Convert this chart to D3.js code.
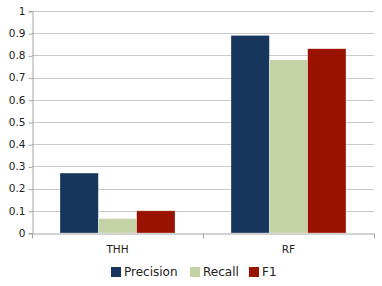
<!DOCTYPE html>
<html>
<head>
<meta charset="utf-8">
<script src="https://cdn.jsdelivr.net/npm/d3@7/dist/d3.min.js"></script>
<style>
  body { margin: 0; background: #fff; }
  svg { display: block; font-family: 'DejaVu Sans', Verdana, sans-serif; }
</style>
</head>
<body>
<div id="chart"></div>
<script>
// Chart data
const categories = ['THH', 'RF'];
const seriesNames = ['Precision', 'Recall', 'F1'];
const precision = [0.27, 0.89];
const recall = [0.065, 0.78];
const f1 = [0.10, 0.83];
const yTicks = [0, 0.1, 0.2, 0.3, 0.4, 0.5, 0.6, 0.7, 0.8, 0.9, 1];
const colors = ['#17365d', '#c3d3a6', '#991300'];

const width = 382, height = 286;
const margin = { top: 11, right: 8, bottom: 53, left: 32 };

const svg = d3.select('#chart').append('svg')
  .attr('width', width)
  .attr('height', height);

const x = d3.scaleBand()
  .domain(categories)
  .range([margin.left, width - margin.right])
  .paddingInner(0)
  .paddingOuter(0);

const x1 = d3.scaleBand()
  .domain(seriesNames)
  .range([0, x.bandwidth()])
  .paddingInner(0)
  .paddingOuter(0.73);

const y = d3.scaleLinear()
  .domain([0, 1])
  .range([height - margin.bottom, margin.top]);

// gridlines
svg.append('g')
  .selectAll('line')
  .data(yTicks.slice(1))
  .enter()
  .append('line')
  .attr('x1', margin.left)
  .attr('x2', width - margin.right)
  .attr('y1', d => Math.round(y(d)) + 0.5)
  .attr('y2', d => Math.round(y(d)) + 0.5)
  .attr('stroke', '#c9c9c9');

// y axis
const yAxis = d3.axisLeft(y)
  .tickValues(yTicks)
  .tickFormat(d => d3.format('~g')(d))
  .tickSize(4)
  .tickPadding(3);
const gy = svg.append('g')
  .attr('transform', `translate(${margin.left + 0.5}, 0)`)
  .call(yAxis);
gy.selectAll('.tick line').attr('stroke', '#a6a6a6')
  .attr('transform', 'translate(0,0.5)');
gy.select('.domain').attr('stroke', '#a6a6a6');
gy.selectAll('text').attr('font-size', '10.5px').attr('fill', '#222')
  .attr('font-family', "'DejaVu Sans', Verdana, sans-serif");

// bars
const data = categories.map((c, i) => ({
  cat: c,
  values: [precision[i], recall[i], f1[i]]
}));

const groups = svg.append('g')
  .selectAll('g')
  .data(data)
  .enter()
  .append('g')
  .attr('transform', d => `translate(${x(d.cat)}, 0)`);

groups.selectAll('rect')
  .data(d => d.values.map((v, j) => ({ name: seriesNames[j], v: v, j: j })))
  .enter()
  .append('rect')
  .attr('x', d => x1(d.name))
  .attr('width', x1.bandwidth())
  .attr('y', d => y(d.v))
  .attr('height', d => y(0) - y(d.v))
  .attr('fill', d => colors[d.j])
  .attr('stroke', 'rgba(255,255,255,0.5)')
  .attr('stroke-width', 0.6);

// x axis
const xAxis = d3.axisBottom(x).tickSize(0).tickPadding(12);
const gx = svg.append('g')
  .attr('transform', `translate(0, ${Math.round(y(0)) + 0.5})`)
  .call(xAxis);
gx.select('.domain').attr('stroke', '#a6a6a6');
gx.selectAll('text').attr('font-size', '10.5px').attr('fill', '#222')
  .attr('font-family', "'DejaVu Sans', Verdana, sans-serif");
// category separators
gx.append('g')
  .selectAll('line')
  .data(categories.map(c => x(c)).concat([x.range()[1]]))
  .enter()
  .append('line')
  .attr('x1', d => Math.round(d) + 0.5)
  .attr('x2', d => Math.round(d) + 0.5)
  .attr('y1', 0)
  .attr('y2', 5)
  .attr('stroke', '#a6a6a6');

// legend
const legendX = [111, 190, 249];
const legend = svg.append('g')
  .selectAll('g')
  .data(seriesNames)
  .enter()
  .append('g')
  .attr('transform', (d, i) => `translate(${legendX[i]}, 267)`);
legend.append('rect')
  .attr('width', 10)
  .attr('height', 10)
  .attr('fill', (d, i) => colors[i]);
legend.append('text')
  .attr('x', 13)
  .attr('y', 5)
  .attr('dy', '0.36em')
  .attr('font-size', '12px')
  .attr('fill', '#222')
  .text(d => d);
</script>
</body>
</html>
